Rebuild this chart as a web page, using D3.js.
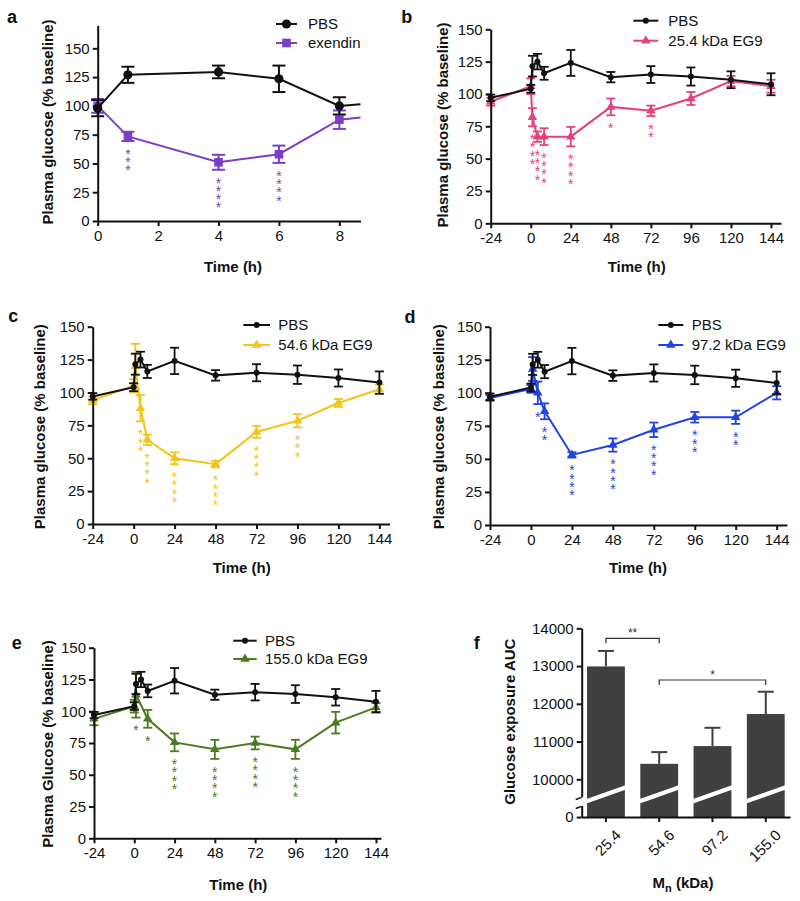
<!DOCTYPE html>
<html><head><meta charset="utf-8">
<script src="https://cdn.jsdelivr.net/npm/d3@7"></script>
<style>
body{margin:0;background:#fff;}
svg{display:block;font-family:"Liberation Sans",Arial,Helvetica,sans-serif;}
</style></head><body>
<svg id="c" width="800" height="901"></svg>
<script>
// ---------------- DATA ----------------
// panel a
const aTime = [0, 1, 4, 6, 8];
const aPbsMean = [98, 127, 129.5, 123.5, 100];
const aPbsErr = [7, 7, 5.5, 11.5, 7.5];
const aExMean = [100, 73.5, 51, 58, 88];
const aExErr = [6, 4, 6.5, 7.5, 8];
const aExStars = [0, 3, 4, 4, 0];
const aEdgeValues = [101.5, 90]; // value where each line meets the right edge (PBS, exendin)
const aXTicks = [0, 2, 4, 6, 8];

// panels b-e
const time = [-24, 0, 1, 4, 8, 24, 48, 72, 96, 120, 144];
const pbsMean = [97, 104, 121.5, 125, 116, 124, 113, 115, 113.5, 111, 107.5];
const pbsErr = [2.5, 3, 8, 6, 5, 10, 4, 6.5, 7, 6.5, 8.5];

const eg25Mean = [94, 106, 82, 67, 67, 67, 90, 87, 96.5, 110, 106];
const eg25Err = [3, 6, 7, 4, 6.5, 7.5, 6.5, 4, 5, 4, 5];
const eg25Stars = [0, 0, 4, 4, 4, 4, 1, 2, 0, 0, 0];

const eg55Mean = [94, 105, 120, 88, 64, 50, 45.5, 70, 78.5, 92, 102.5];
const eg55Err = [3, 5, 17, 10, 4, 4.5, 2.5, 4.5, 5, 3, 3.5];
const eg55Stars = [0, 0, 0, 3, 4, 4, 4, 4, 3, 0, 0];

const eg97Mean = [96, 103, 118, 100, 86, 53, 60.5, 72, 81.5, 81.5, 100];
const eg97Err = [2, 3, 9, 8.5, 6, 2, 5, 5.5, 4, 5, 5];
const eg97Stars = [0, 0, 0, 1, 2, 4, 4, 4, 3, 2, 0];

const eg155Time = [-24, 0, 1, 8, 24, 48, 72, 96, 120, 144];
const eg155Mean = [94, 104, 113, 94, 75.5, 70, 75, 70, 91, 103];
const eg155Err = [5, 5, 18, 7, 7, 7.5, 5, 7.5, 8.5, 3.5];
const eg155Stars = [0, 0, 1, 1, 4, 4, 4, 4, 0, 0];

const timeTicks = [-24, 0, 24, 48, 72, 96, 120, 144];
const glucoseTicks = [0, 25, 50, 75, 100, 125, 150];

// panel f
const aucCats = ["25.4", "54.6", "97.2", "155.0"];
const aucMean = [12990, 10410, 10880, 11730];
const aucErr = [410, 310, 485, 590];
const aucTicks = [10000, 11000, 12000, 13000, 14000];
const aucZeroLabel = "0";
const sigPairs = [["25.4", "54.6", "**"], ["54.6", "155.0", "*"]];
const sigLevels = [13735, 12630];

// ---------------- DRAW ----------------
const svg = d3.select("#c");
const BLACK = "#111";

function marker(g, type, x, y, color, size) {
  if (type === "circle") {
    g.append("circle").attr("cx", x).attr("cy", y).attr("r", size).attr("fill", color);
  } else if (type === "square") {
    g.append("rect").attr("x", x - size).attr("y", y - size).attr("width", 2 * size).attr("height", 2 * size).attr("fill", color);
  } else {
    g.append("path").attr("d", d3.symbol(d3.symbolTriangle, size * size * 3)())
      .attr("transform", `translate(${x},${y})`).attr("fill", color);
  }
}

function drawSeries(g, x, y, s) {
  const pts = s.T.map((t, i) => [t, s.M[i]]);
  if (s.edge !== undefined) pts.push([x.domain()[1], s.edge]);
  g.append("path").datum(pts)
    .attr("d", d3.line().x(d => x(d[0])).y(d => y(d[1])))
    .attr("fill", "none").attr("stroke", s.color).attr("stroke-width", s.lw);
  s.T.forEach((t, i) => {
    const xx = x(t), y1 = y(s.M[i] + s.E[i]), y2 = y(s.M[i] - s.E[i]);
    const eg = g.append("g").attr("stroke", s.color).attr("stroke-width", s.ew);
    eg.append("line").attr("x1", xx).attr("x2", xx).attr("y1", y1).attr("y2", y2);
    eg.append("line").attr("x1", xx - s.cap).attr("x2", xx + s.cap).attr("y1", y1).attr("y2", y1);
    eg.append("line").attr("x1", xx - s.cap).attr("x2", xx + s.cap).attr("y1", y2).attr("y2", y2);
    marker(g, s.marker, xx, y(s.M[i]), s.color, s.size);
  });
  if (s.stars) {
    s.T.forEach((t, i) => {
      const n = s.stars[i];
      if (!n) return;
      const c0 = y(s.M[i] - s.E[i]) + 10;
      const xs = d3.range(n).map(() => x(t).toFixed(2)).join(" ");
      const ys = d3.range(n).map(k => (c0 + k * 8.3 + 7.8).toFixed(2)).join(" ");
      // one text element per column, each asterisk positioned by the x/y lists
      g.append("text").attr("x", xs).attr("y", ys).attr("text-anchor", "middle")
        .attr("font-size", 14).attr("fill", s.color).text("*".repeat(n));
    });
  }
}

function styleAxis(ax) {
  ax.selectAll("path,line").attr("stroke", BLACK).attr("stroke-width", 2);
  ax.selectAll("text").attr("font-size", 15).attr("fill", BLACK);
}

function drawPanel(c) {
  const g = svg.append("g");
  const x = d3.scaleLinear().domain(c.xDomain).range([c.left, c.right]);
  const y = d3.scaleLinear().domain(c.yDomain).range([c.bottom, c.top]);
  c.series.forEach(s => drawSeries(g, x, y, s));
  const ax = g.append("g").attr("transform", `translate(0,${c.bottom})`)
    .call(d3.axisBottom(x).tickValues(c.xTicks).tickSize(5).tickSizeOuter(0).tickPadding(4).tickFormat(d => String(d)));
  styleAxis(ax);
  const ay = g.append("g").attr("transform", `translate(${c.left},0)`)
    .call(d3.axisLeft(y).tickValues(glucoseTicks).tickSize(5).tickSizeOuter(0).tickPadding(3).tickFormat(d => String(d)));
  styleAxis(ay);
  g.append("text").attr("x", c.xlab[0]).attr("y", c.xlab[1] + 5).attr("text-anchor", "middle")
    .attr("font-weight", "bold").attr("font-size", 15).attr("fill", BLACK).text("Time (h)");
  g.append("text").attr("transform", `translate(${c.ylab[0] + 5},${c.ylab[1]}) rotate(-90)`)
    .attr("text-anchor", "middle").attr("font-weight", "bold").attr("font-size", 15).attr("fill", BLACK).text(c.ylabText);
  g.append("text").attr("x", c.letter[0]).attr("y", c.letter[1] + 6).attr("text-anchor", "middle")
    .attr("font-weight", "bold").attr("font-size", 18).attr("fill", BLACK).text(c.letterText);
  const L = c.legend;
  [c.series[1], c.series[0]].forEach((s, i) => {
    const yy = L.y[i];
    g.append("line").attr("x1", L.x1).attr("x2", L.x2).attr("y1", yy).attr("y2", yy)
      .attr("stroke", s.color).attr("stroke-width", s.lw);
    marker(g, s.marker, (L.x1 + L.x2) / 2, yy, s.color, s.size);
    g.append("text").attr("x", L.tx).attr("y", yy + 5.3).attr("font-size", 15).attr("fill", BLACK).text(s.name);
  });
}

drawPanel({
  left: 97.7, right: 360.5, top: 25.3, bottom: 221, xDomain: [0, 8.7], yDomain: [0, 170],
  xTicks: aXTicks, xlab: [233, 267], ylab: [48, 122], ylabText: "Plasma glucose (% baseline)",
  letter: [12, 17], letterText: "a",
  legend: { x1: 276, x2: 297, tx: 308, y: [24, 43] },
  series: [
    { name: "exendin", T: aTime, M: aExMean, E: aExErr, stars: aExStars, edge: aEdgeValues[1], color: "#7b3ec9", marker: "square", size: 4.3, lw: 2, ew: 2, cap: 6.5 },
    { name: "PBS", T: aTime, M: aPbsMean, E: aPbsErr, edge: aEdgeValues[0], color: BLACK, marker: "circle", size: 4.6, lw: 2, ew: 2, cap: 6.5 }
  ]
});

function pbsSeries() {
  return { name: "PBS", T: time, M: pbsMean, E: pbsErr, color: BLACK, marker: "circle", size: 3, lw: 2, ew: 1.8, cap: 4.5 };
}

drawPanel({
  left: 490.7, right: 781, top: 29.3, bottom: 223.3, xDomain: [-24, 150], yDomain: [0, 150],
  xTicks: timeTicks, xlab: [636.7, 266.7], ylab: [442.7, 125], ylabText: "Plasma glucose (% baseline)",
  letter: [406.7, 17], letterText: "b",
  legend: { x1: 633.3, x2: 658.3, tx: 668.3, y: [20.7, 40.7] },
  series: [
    { name: "25.4 kDa EG9", T: time, M: eg25Mean, E: eg25Err, stars: eg25Stars, color: "#e6407e", marker: "triangle", size: 3.6, lw: 2, ew: 1.8, cap: 4.5 },
    pbsSeries()
  ]
});

drawPanel({
  left: 92.7, right: 389.6, top: 326.7, bottom: 524, xDomain: [-24, 150], yDomain: [0, 150],
  xTicks: timeTicks, xlab: [241.7, 568.3], ylab: [40, 426.7], ylabText: "Plasma glucose (% baseline)",
  letter: [13.3, 316], letterText: "c",
  legend: { x1: 243.3, x2: 270, tx: 278.3, y: [325, 345] },
  series: [
    { name: "54.6 kDa EG9", T: time, M: eg55Mean, E: eg55Err, stars: eg55Stars, color: "#f2c41c", marker: "triangle", size: 3.6, lw: 2, ew: 1.8, cap: 4.5 },
    pbsSeries()
  ]
});

drawPanel({
  left: 490, right: 786.9, top: 326.7, bottom: 525, xDomain: [-24, 150], yDomain: [0, 150],
  xTicks: timeTicks, xlab: [638, 568.3], ylab: [439.3, 426.7], ylabText: "Plasma glucose (% baseline)",
  letter: [410, 316.7], letterText: "d",
  legend: { x1: 658.3, x2: 683.3, tx: 691.7, y: [325, 345] },
  series: [
    { name: "97.2 kDa EG9", T: time, M: eg97Mean, E: eg97Err, stars: eg97Stars, color: "#2242e4", marker: "triangle", size: 3.6, lw: 2, ew: 1.8, cap: 4.5 },
    pbsSeries()
  ]
});

drawPanel({
  left: 94, right: 381, top: 647.7, bottom: 838.3, xDomain: [-24, 147], yDomain: [0, 150],
  xTicks: timeTicks, xlab: [238.3, 885], ylab: [48, 744], ylabText: "Plasma Glucose (% baseline)",
  letter: [16.7, 643.3], letterText: "e",
  legend: { x1: 233.3, x2: 256.7, tx: 265, y: [640.7, 659] },
  series: [
    { name: "155.0 kDa EG9", T: eg155Time, M: eg155Mean, E: eg155Err, stars: eg155Stars, color: "#4b7b20", marker: "triangle", size: 3.6, lw: 2, ew: 1.8, cap: 4.5 },
    pbsSeries()
  ]
});

// ---------------- panel f ----------------
(function () {
  const g = svg.append("g");
  const GRAY = "#404040";
  const left = 581.7, right = 790, bottom = 817.05, top = 628.3;
  const x = d3.scaleBand().domain(aucCats).range([left, right]).paddingInner(0.29).paddingOuter(0.1);
  const y = d3.scaleLinear().domain([9000, 14000]).range([bottom, top]);
  const bw = x.bandwidth();
  aucCats.forEach((c, i) => {
    const cx = x(c) + bw / 2;
    g.append("line").attr("x1", cx).attr("x2", cx).attr("y1", y(aucMean[i])).attr("y2", y(aucMean[i] + aucErr[i]))
      .attr("stroke", GRAY).attr("stroke-width", 2);
    g.append("line").attr("x1", cx - 8).attr("x2", cx + 8).attr("y1", y(aucMean[i] + aucErr[i])).attr("y2", y(aucMean[i] + aucErr[i]))
      .attr("stroke", GRAY).attr("stroke-width", 2);
  });
  g.selectAll("rect.bar").data(aucCats).enter().append("rect").attr("class", "bar")
    .attr("x", d => x(d)).attr("width", bw)
    .attr("y", (d, i) => y(aucMean[i])).attr("height", (d, i) => bottom - y(aucMean[i]))
    .attr("fill", GRAY);
  const ax = g.append("g").attr("transform", `translate(0,${bottom})`)
    .call(d3.axisBottom(x).tickSize(5).tickSizeOuter(0).tickPadding(4));
  styleAxis(ax);
  ax.selectAll(".tick text").attr("text-anchor", "end").attr("transform", "translate(6,9) rotate(-45)").attr("dy", "0.35em");
  const ay = g.append("g").attr("transform", `translate(${left},0)`)
    .call(d3.axisLeft(y).tickValues([9000].concat(aucTicks)).tickSize(5).tickSizeOuter(0).tickPadding(3)
      .tickFormat(d => d === 9000 ? aucZeroLabel : d3.format("d")(d)));
  styleAxis(ay);
  const brk = 9600, slope = 13.3 / bw, th = 4.5;
  aucCats.forEach(c => {
    const x0 = x(c) - 0.5, x1 = x(c) + bw + 0.5, yc = y(brk), xm = x(c) + bw / 2;
    const yl = yc + (xm - x0) * slope, yr = yc - (x1 - xm) * slope;
    g.append("polygon").attr("points", `${x0},${yl - th / 2} ${x1},${yr - th / 2} ${x1},${yr + th / 2} ${x0},${yl + th / 2}`)
      .attr("fill", "#fff");
  });
  {
    const x0 = left - 6, x1 = left + 3, yc = y(brk) + 8;
    const ph = 9;
    const yl = yc + 4.5 * slope, yr = yc - 4.5 * slope;
    g.append("polygon").attr("points", `${x0},${yl - ph / 2} ${x1},${yr - ph / 2} ${x1},${yr + ph / 2} ${x0},${yl + ph / 2}`)
      .attr("fill", "#fff");
    [-ph / 2, ph / 2].forEach(o => {
      g.append("line").attr("x1", x0).attr("x2", left).attr("y1", yl + o).attr("y2", yl + o - (left - x0) * slope)
        .attr("stroke", BLACK).attr("stroke-width", 1.5);
    });
  }
  sigPairs.forEach((p, i) => {
    const xa = x(p[0]) + bw / 2, xb = x(p[1]) + bw / 2, yy = y(sigLevels[i]);
    g.append("path").attr("d", `M${xa},${yy + 5}V${yy}H${xb}V${yy + 5}`)
      .attr("fill", "none").attr("stroke", "#333").attr("stroke-width", 1.2);
    g.append("text").attr("x", (xa + xb) / 2).attr("y", yy - 1).attr("text-anchor", "middle")
      .attr("font-size", 12).attr("fill", "#333").text(p[2]);
  });
  g.append("text").attr("transform", `translate(${515},${721.7}) rotate(-90)`)
    .attr("text-anchor", "middle").attr("font-weight", "bold").attr("font-size", 15).attr("fill", BLACK)
    .text("Glucose exposure AUC");
  const xl = g.append("text").attr("x", 683).attr("y", 888).attr("text-anchor", "middle")
    .attr("font-weight", "bold").attr("font-size", 15).attr("fill", BLACK);
  xl.append("tspan").text("M");
  xl.append("tspan").attr("font-size", 11).attr("dy", 4).text("n");
  xl.append("tspan").attr("dy", -4).text(" (kDa)");
  g.append("text").attr("x", 476.7).attr("y", 649.3).attr("text-anchor", "middle")
    .attr("font-weight", "bold").attr("font-size", 18).attr("fill", BLACK).text("f");
})();
</script>
</body></html>
